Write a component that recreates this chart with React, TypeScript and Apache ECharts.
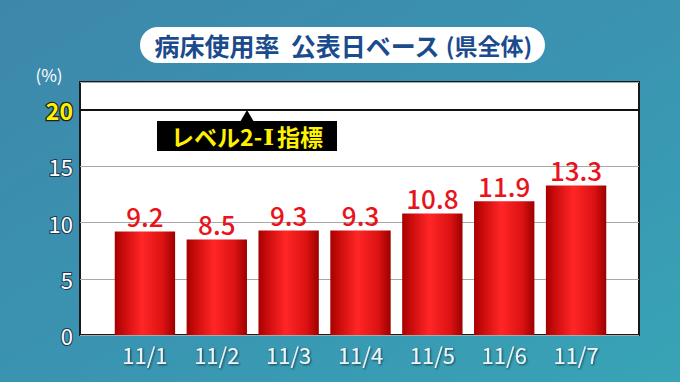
import React, { useEffect, useRef } from "react";
import * as echarts from "echarts";

const categories = ["11/1", "11/2", "11/3", "11/4", "11/5", "11/6", "11/7"];
const values = [9.2, 8.5, 9.3, 9.3, 10.8, 11.9, 13.3];
const yTicks = [0, 5, 10, 15, 20];
const levelValue = 20;
const titleText = "病床使用率  公表日ベース ";
const titleParen = "(県全体)";
const levelTextA = "レベル2-";
const levelTextB = "Ⅰ";
const levelTextC = "指標";
const unitText = "(%)";

const FONT = "'Noto Sans CJK JP', 'Noto Sans', sans-serif";
const Y_MIN = 0;
const Y_MAX = 22.5;

export default function App() {
  const ref = useRef<HTMLDivElement>(null);
  useEffect(() => {
    document.body.style.margin = "0";
    const chart = echarts.init(ref.current!, null, { renderer: "svg" });
    const barGrad = new echarts.graphic.LinearGradient(0, 0, 1, 0, [
      { offset: 0, color: "#a80000" },
      { offset: 0.2, color: "#d41010" },
      { offset: 0.45, color: "#ff2626" },
      { offset: 0.8, color: "#dc1212" },
      { offset: 1, color: "#9c0000" },
    ]);
    chart.setOption({
      animation: false,
      backgroundColor: new echarts.graphic.LinearGradient(0, 0, 1, 1, [
        { offset: 0, color: "#3d87ab" },
        { offset: 0.5, color: "#3a93b1" },
        { offset: 1, color: "#38a4b6" },
      ]),
      textStyle: { fontFamily: FONT },
      grid: [
        {
          left: 80,
          right: 41,
          top: 82,
          bottom: 47,
          show: true,
          backgroundColor: "#ffffff",
          borderColor: "#1a1a1a",
          borderWidth: 2,
        },
        {
          left: 109,
          right: 68,
          top: 82,
          bottom: 47,
          show: false,
        },
      ],
      xAxis: [
        {
          gridIndex: 0,
          type: "category",
          data: categories,
          show: false,
        },
        {
          gridIndex: 1,
          type: "category",
          data: categories,
          axisLine: { show: false },
          axisTick: { show: false },
          axisLabel: {
            color: "#f0f4f6",
            fontSize: 22,
            fontFamily: FONT,
            margin: 8,
            textShadowColor: "rgba(0,0,0,0.6)",
            textShadowBlur: 2,
            textShadowOffsetX: 1,
            textShadowOffsetY: 1,
          },
        },
      ],
      yAxis: [
        {
          gridIndex: 0,
          type: "value",
          min: Y_MIN,
          max: Y_MAX,
          interval: 5,
          axisLine: { show: false },
          axisTick: { show: false },
          splitLine: { show: true, lineStyle: { color: "#a8a8a8", width: 1 } },
          axisLabel: {
            margin: 7,
            showMaxLabel: false,
            formatter: (v: number) =>
              yTicks.includes(v) ? (v === levelValue ? `{y|${v}}` : `{w|${v}}`) : "",
            rich: {
              w: {
                color: "#ffffff",
                fontSize: 22,
                fontFamily: FONT,
                textBorderColor: "#1e3a52",
                textBorderWidth: 2,
              },
              y: {
                color: "#fff200",
                fontSize: 23,
                fontWeight: "bold",
                fontFamily: FONT,
                textBorderColor: "#222222",
                textBorderWidth: 2.5,
              },
            },
          },
        },
        {
          gridIndex: 1,
          type: "value",
          min: Y_MIN,
          max: Y_MAX,
          show: false,
          splitLine: { show: false },
        },
      ],
      series: [
        {
          type: "line",
          xAxisIndex: 0,
          yAxisIndex: 0,
          data: [],
          markLine: {
            silent: true,
            symbol: "none",
            label: { show: false },
            lineStyle: { color: "#111111", width: 2, type: "solid" },
            data: [{ yAxis: levelValue }],
          },
        },
        {
          type: "bar",
          xAxisIndex: 1,
          yAxisIndex: 1,
          data: values,
          barWidth: "84%",
          itemStyle: { color: barGrad },
          label: {
            show: true,
            position: "top",
            distance: 3,
            color: "#e8141c",
            fontSize: 26,
            fontWeight: 500,
            fontFamily: FONT,
            formatter: (p: any) => p.value.toFixed(1),
          },
        },
      ],
      graphic: [
        {
          type: "rect",
          shape: { x: 140, y: 27, width: 405, height: 36, r: 18 },
          style: { fill: "#ffffff" },
        },
        {
          type: "text",
          x: 343,
          y: 45,
          style: {
            text: `{a|${titleText}}{b|${titleParen}}`,
            align: "center",
            verticalAlign: "middle",
            rich: {
              a: { fontSize: 25, fontWeight: "bold", fill: "#1b4b8d", fontFamily: FONT, color: "#1b4b8d" },
              b: { fontSize: 23, fontWeight: "bold", fill: "#1b4b8d", fontFamily: FONT, color: "#1b4b8d" },
            },
          },
        },
        {
          type: "text",
          x: 49,
          y: 74,
          style: {
            text: unitText,
            align: "center",
            verticalAlign: "middle",
            fill: "#ffffff",
            fontSize: 17,
            fontFamily: FONT,
          },
        },
        {
          type: "polygon",
          shape: { points: [[240, 122], [254, 122], [247, 110]] },
          style: { fill: "#000000" },
        },
        {
          type: "rect",
          shape: { x: 157, y: 121, width: 180, height: 30 },
          style: { fill: "#000000" },
        },
        {
          type: "text",
          x: 247,
          y: 136,
          style: {
            text: `{a|${levelTextA}}{b|${levelTextB}}{a|${levelTextC}}`,
            align: "center",
            verticalAlign: "middle",
            rich: {
              a: { fontSize: 23, fontWeight: "bold", fontFamily: FONT, color: "#fff200", fill: "#fff200" },
              b: { fontSize: 23, fontWeight: "bold", fontFamily: "'DejaVu Serif', 'Liberation Serif', serif", color: "#fff200", fill: "#fff200", padding: [0, 3, 0, 1] },
            },
          },
        },
      ],
    });
    return () => chart.dispose();
  }, []);
  return <div ref={ref} style={{ width: 680, height: 382 }} />;
}
